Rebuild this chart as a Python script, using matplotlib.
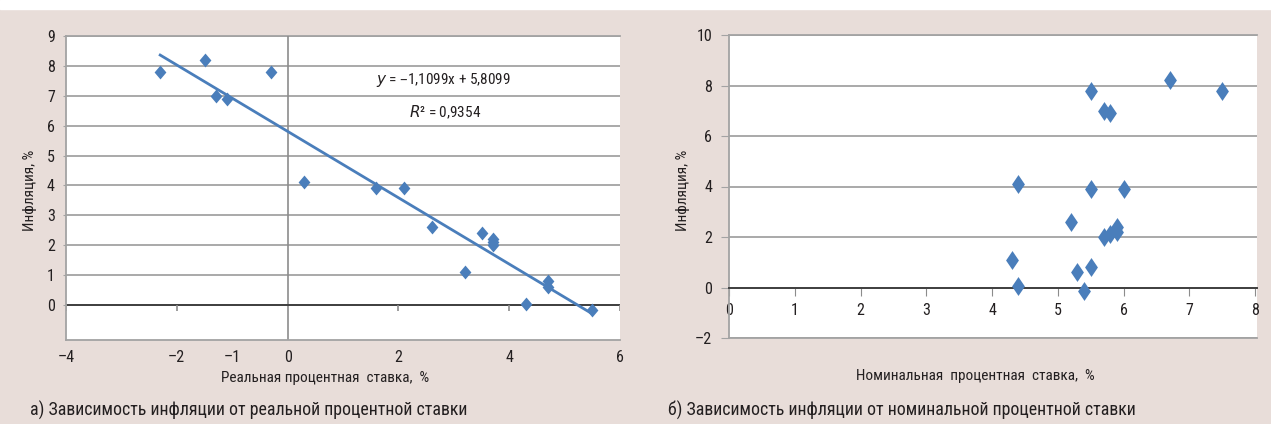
import matplotlib
matplotlib.use('Agg')
import matplotlib.pyplot as plt
from matplotlib import font_manager
from matplotlib.path import Path

# inflation vs real / nominal interest rate, %
real_rate = [-2.3, -1.5, -1.3, -1.1, -0.3, 0.3, 1.6, 2.1, 2.6, 3.5, 3.7, 3.7, 3.7, 3.2, 4.3, 4.7, 4.7, 5.5]
nominal_rate = [5.5, 6.7, 5.7, 5.8, 7.5, 4.4, 5.5, 6.0, 5.2, 5.9, 5.9, 5.8, 5.7, 4.3, 4.4, 5.5, 5.3, 5.4]
inflation = [7.8, 8.2, 7.0, 6.9, 7.8, 4.1, 3.9, 3.9, 2.6, 2.4, 2.2, 2.1, 2.0, 1.1, 0.05, 0.8, 0.6, -0.15]

# linear trend for the left panel
slope = -1.1099
intercept = 5.8099
r2 = 0.9354

left_xticks = [-4, -2, -1, 0, 2, 4, 6]
left_axis_ticks = [-4, -2, 2, 4, 6]
left_yticks = [0, 1, 2, 3, 4, 5, 6, 7, 8, 9]
right_xticks = [0, 1, 2, 3, 4, 5, 6, 7, 8]
right_yticks = [-2, 0, 2, 4, 6, 8, 10]

installed = {f.name for f in font_manager.fontManager.ttflist}
family = 'DejaVu Sans'
for name in ['Roboto Condensed', 'Liberation Sans Narrow', 'Open Sans Condensed', 'Roboto']:
    if name in installed:
        family = name
        break
plt.rcParams['font.family'] = [family, 'DejaVu Sans']

BG = '#e8ddd9'
BLUE = '#4a7ebb'
GRID = '#a3a3a3'
AXIS = '#404040'
TXT = '#231f20'


def diamond(w):
    # Excel-like diamond, taller than wide
    return Path([(0, 1), (w, 0), (0, -1), (-w, 0), (0, 1)],
                [Path.MOVETO, Path.LINETO, Path.LINETO, Path.LINETO, Path.CLOSEPOLY])


fig = plt.figure(figsize=(12.71, 4.24), dpi=100)
fig.patch.set_facecolor(BG)
# white strip along the top edge
fig.patches.append(plt.Rectangle((0, 1 - 9 / 424), 1, 9 / 424, transform=fig.transFigure,
                                 color='white', zorder=0))

W, H = 1271, 424


def box(x0, y0, x1, y1):
    return [x0 / W, 1 - y1 / H, (x1 - x0) / W, (y1 - y0) / H]


# ---- left panel: real rate ----
ax1 = fig.add_axes(box(66, 36, 620, 340))
ax1.set_facecolor('white')
ax1.set_xlim(-4, 6)
ax1.set_ylim(-1.17, 9)
ax1.set_yticks(left_yticks)
ax1.set_xticks(left_xticks)
ax1.set_xticklabels(['\u2013' + str(-t) if t < 0 else str(t) for t in left_xticks])
ax1.grid(axis='y', color=GRID, lw=1.3)
ax1.set_axisbelow(True)
for s in ['top', 'right']:
    ax1.spines[s].set_visible(False)
for s in ['left', 'bottom']:
    ax1.spines[s].set_color(GRID)
    ax1.spines[s].set_linewidth(1.3)
ax1.axhline(9, color=GRID, lw=1.3, clip_on=False, zorder=1)
ax1.axvline(0, color='#8c8c8c', lw=1.2, zorder=1)
ax1.axhline(0, color=AXIS, lw=1.4, zorder=2)
ax1.vlines(left_axis_ticks, -0.2, 0, color='#8c8c8c', lw=1.2, zorder=2)
ax1.tick_params(axis='x', length=0, pad=7, labelsize=11.5, colors=TXT)
ax1.tick_params(axis='y', length=2, pad=6, labelsize=11.5, colors=TXT, color=GRID)

xs = [min(real_rate), max(real_rate)]
ax1.plot(xs, [slope * x + intercept for x in xs], color=BLUE, lw=2, zorder=3)
ax1.scatter(real_rate, inflation, marker=diamond(0.85), s=100, color=BLUE, zorder=4, linewidths=0)

ax1.text(443 / W, 1 - 80 / H, '$y$ = \u2013' + f'{-slope:.4f}'.replace('.', ',') + 'x + '
         + f'{intercept:.4f}'.replace('.', ','), transform=fig.transFigure,
         ha='center', va='center', fontsize=11, color=TXT)
ax1.text(445 / W, 1 - 112 / H, '$R$² = ' + f'{r2:.4f}'.replace('.', ','),
         transform=fig.transFigure, ha='center', va='center', fontsize=11, color=TXT)

fig.text(30 / W, 1 - 190 / H, 'Инфляция, %', rotation=90, ha='center', va='center',
         fontsize=11, color=TXT)
fig.text(325 / W, 1 - 378 / H, 'Реальная процентная  ставка,  %', ha='center', va='center',
         fontsize=11, color=TXT)
fig.text(30 / W, 1 - 410 / H, 'а) Зависимость инфляции от реальной процентной ставки',
         ha='left', va='center', fontsize=12.9, color=TXT)

# ---- right panel: nominal rate ----
ax2 = fig.add_axes(box(729, 35, 1257, 338))
ax2.set_facecolor('white')
ax2.set_xlim(0, 8.03)
ax2.set_ylim(-2, 10)
ax2.set_yticks(right_yticks)
ax2.set_yticklabels(['\u2013' + str(-t) if t < 0 else str(t) for t in right_yticks])
ax2.set_xticks(right_xticks)
ax2.grid(axis='y', color=GRID, lw=1.3)
ax2.set_axisbelow(True)
for s in ['top', 'right']:
    ax2.spines[s].set_visible(False)
ax2.spines['left'].set_color(GRID)
ax2.spines['left'].set_linewidth(1.3)
ax2.spines['bottom'].set_position(('data', 0))
ax2.spines['bottom'].set_color(AXIS)
ax2.spines['bottom'].set_linewidth(1.4)
ax2.axhline(10, color=GRID, lw=1.3, clip_on=False, zorder=1)
ax2.axhline(-2, color=GRID, lw=1.3, clip_on=False, zorder=1)
ax2.tick_params(axis='x', length=6, pad=5, labelsize=11.5, colors=TXT, color='#8c8c8c')
ax2.tick_params(axis='y', length=6, pad=6, labelsize=11.5, colors=TXT, color=GRID)

ax2.scatter(nominal_rate, inflation, marker=diamond(0.68), s=185, color=BLUE, zorder=4, linewidths=0)

fig.text(683 / W, 1 - 190 / H, 'Инфляция, %', rotation=90, ha='center', va='center',
         fontsize=11, color=TXT)
fig.text(975 / W, 1 - 376 / H, 'Номинальная  процентная  ставка,  %', ha='center', va='center',
         fontsize=11, color=TXT)
fig.text(668 / W, 1 - 410 / H, 'б) Зависимость инфляции от номинальной процентной ставки',
         ha='left', va='center', fontsize=12.9, color=TXT)

fig.savefig('out.png', dpi=100, facecolor=fig.get_facecolor())
